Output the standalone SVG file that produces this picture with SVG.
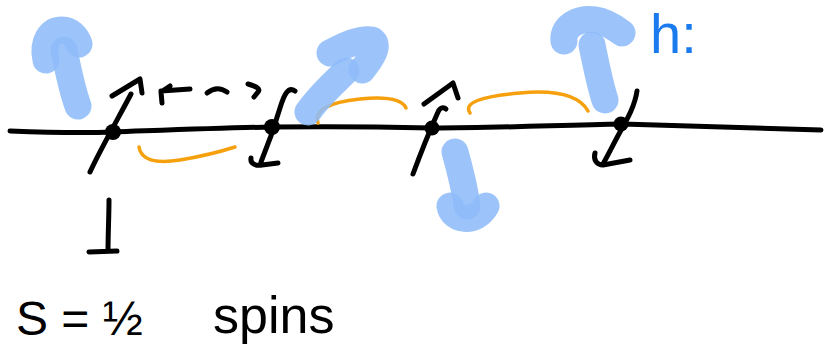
<svg xmlns="http://www.w3.org/2000/svg" width="825" height="352" viewBox="0 0 825 352">
<style>
.ink{fill:none;stroke:#000;stroke-width:5;stroke-linecap:round;stroke-linejoin:round}
.dot{fill:#000}
.blue{fill:none;stroke:#8ebcf9;stroke-width:27;stroke-linecap:round;stroke-linejoin:round;opacity:0.88}
.orange{fill:none;stroke:#f5a00c;stroke-width:3.5;stroke-linecap:round}
.hand{font-family:"Liberation Sans","DejaVu Sans",sans-serif;fill:#000}
</style>
<rect width="825" height="352" fill="#fff"/>
<g id="chain">
<path class="ink" d="M10,131 C60,133 90,133 113,132 C170,130 220,128 272,127 C340,126 390,127 432,128 C500,128 560,125 622,124 C700,126 770,129 821,130"/>
</g>
<g id="spin1">
<path class="ink" d="M90,172 C100,150 120,115 131,94"/>
<path class="ink" d="M112,96 L140,79 L142,93"/>
<circle class="dot" cx="113" cy="132" r="8"/>
</g>
<g id="spin2">
<path class="ink" d="M295,91 C288,86 284,95 280,108 C275,125 268,145 261,162"/>
<path class="ink" d="M251,158 C250,164 256,166 262,165 L278,163"/>
<circle class="dot" cx="272" cy="127" r="8"/>
</g>
<g id="spin3">
<path class="ink" d="M413,174 C420,155 430,130 438,112 C440,107 444,107 446,109"/>
<path class="ink" d="M424,104 L453,83 L458,98"/>
<circle class="dot" cx="432" cy="128" r="7.5"/>
</g>
<g id="spin4">
<path class="ink" d="M637,91 C635,105 628,118 620,132 C614,143 608,155 603,164"/>
<path class="ink" d="M595,153 C593,160 597,165 603,165 L630,160"/>
<circle class="dot" cx="621" cy="124" r="7.5"/>
</g>
<g id="exchange">
<path class="ink" d="M170,86 L161,92 L162,103 M161,91 L190,89"/>
<path class="ink" d="M207,93 Q217,85 227,92"/>
<path class="ink" d="M248,84 Q262,88 258,92 L254,97"/>
</g>
<g id="connectors">
<path class="orange" d="M139,147 Q142,166 180,160 Q210,155 235,147"/>
<path class="orange" d="M318,123 Q312,104 360,99 Q400,95 406,108"/>
<path class="orange" d="M470,113 Q460,98 520,93 Q575,88 588,111"/>
</g>
<g id="field1">
<path class="blue" d="M64,50 C68,70 72,90 78,106"/>
<path class="blue" d="M46,60 C42,42 50,30 62,30 C70,30 76,36 79,44"/>
</g>
<g id="field2">
<path class="blue" d="M308,112 C320,95 335,82 346,71"/>
<path class="blue" d="M330,53 C345,45 360,38 372,40 C380,45 372,58 362,70"/>
</g>
<g id="field3">
<path class="blue" d="M455,152 C460,170 465,190 467,206"/>
<path class="blue" d="M450,206 C452,220 475,225 486,206"/>
</g>
<g id="field4">
<path class="blue" d="M592,45 C596,65 600,85 605,100"/>
<path class="blue" d="M564,41 C562,25 580,18 595,20 C608,22 618,30 622,33"/>
</g>
<g id="down-spin">
<path class="ink" d="M109,200 C109,215 108,235 108,251 M89,252 L117,251"/>
</g>
<text x="650" y="53" font-family="'Liberation Sans','DejaVu Sans',sans-serif" font-size="56" fill="#1a7bef">h:</text>
<text class="hand" x="16" y="335" font-size="48">S = ½</text>
<text class="hand" x="213" y="333" font-size="52">spins</text>
</svg>
